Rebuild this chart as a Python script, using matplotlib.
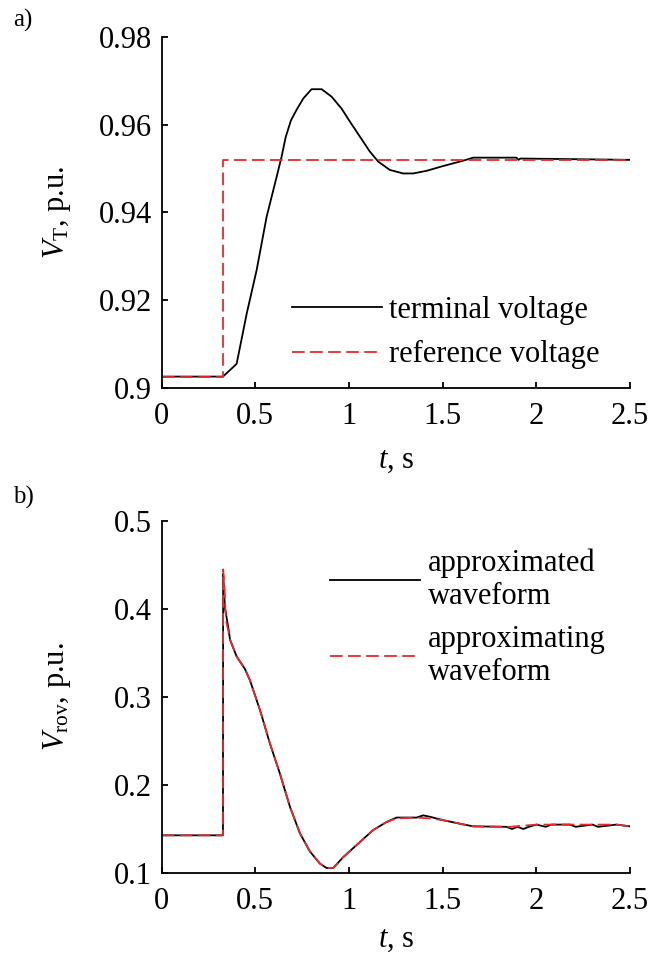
import matplotlib
matplotlib.use("Agg")
import matplotlib.pyplot as plt

plt.rcParams['font.family'] = 'Liberation Serif'
plt.rcParams['mathtext.fontset'] = 'custom'
plt.rcParams['mathtext.rm'] = 'Liberation Serif'
plt.rcParams['mathtext.it'] = 'Liberation Serif:italic'
plt.rcParams['font.size'] = 22

RED = '#e8292e'

# panel a) terminal voltage vs reference
term_t = [0, 0.327, 0.400, 0.454, 0.507, 0.560, 0.614, 0.640, 0.662, 0.690,
          0.720, 0.756, 0.800, 0.854, 0.907, 0.960, 1.005, 1.058, 1.111,
          1.156, 1.218, 1.289, 1.343, 1.414, 1.503, 1.609, 1.663, 1.894,
          1.905, 1.915, 2.5]
term_v = [0.9026, 0.9026, 0.9055, 0.917, 0.9269, 0.939, 0.9482, 0.9527,
          0.9572, 0.9610, 0.9634, 0.966, 0.9681, 0.9681, 0.9664, 0.9637,
          0.9607, 0.9573, 0.9539, 0.9516, 0.9497, 0.9489, 0.9489, 0.9495,
          0.9506, 0.9518, 0.9525, 0.9525, 0.9520, 0.9523, 0.952]
ref_t = [0, 0.327, 0.327, 2.5]
ref_v = [0.9026, 0.9026, 0.952, 0.952]

# panel b) approximated / approximating waveform
appd_t = [0, 0.327, 0.328, 0.333, 0.338, 0.343, 0.356, 0.365, 0.400, 0.444,
          0.471, 0.525, 0.578, 0.631, 0.685, 0.738, 0.791, 0.845, 0.880,
          0.916, 0.969, 1.040, 1.129, 1.200, 1.254, 1.361, 1.396, 1.430,
          1.503, 1.592, 1.663, 1.840, 1.870, 1.900, 1.930, 1.960, 2.001,
          2.050, 2.080, 2.180, 2.210, 2.300, 2.330, 2.428, 2.5]
appd_v = [0.1428, 0.1428, 0.440, 0.420, 0.400, 0.395, 0.378, 0.365, 0.346,
          0.332, 0.319, 0.285, 0.247, 0.213, 0.175, 0.1451, 0.1245, 0.1106,
          0.1057, 0.1057, 0.118, 0.1317, 0.1488, 0.1579, 0.163, 0.163,
          0.1655, 0.164, 0.160, 0.156, 0.153, 0.1525, 0.150, 0.1525, 0.150,
          0.1525, 0.155, 0.1525, 0.155, 0.155, 0.1525, 0.155, 0.1525, 0.155,
          0.153]
appg_t = [0, 0.327, 0.328, 0.335, 0.340, 0.345, 0.356, 0.365, 0.400, 0.444,
          0.471, 0.525, 0.578, 0.631, 0.685, 0.738, 0.791, 0.845, 0.880,
          0.916, 0.969, 1.040, 1.129, 1.200, 1.254, 1.361, 1.430, 1.503,
          1.592, 1.663, 1.859, 2.001, 2.428, 2.5]
appg_v = [0.1428, 0.1428, 0.445, 0.425, 0.400, 0.385, 0.375, 0.365, 0.346,
          0.332, 0.319, 0.285, 0.247, 0.213, 0.175, 0.1451, 0.1245, 0.1106,
          0.1057, 0.1057, 0.118, 0.1317, 0.1488, 0.1579, 0.162, 0.163,
          0.162, 0.160, 0.156, 0.153, 0.1525, 0.155, 0.155, 0.153]

W, H = 665, 956
fig = plt.figure(figsize=(W / 100, H / 100), dpi=100)


def style_axes(ax, xlab_y):
    for s in ['top', 'right']:
        ax.spines[s].set_visible(False)
    for s in ['left', 'bottom']:
        ax.spines[s].set_linewidth(1.3)
    ax.tick_params(direction='in', length=4.5, width=1.3)
    ax.tick_params(axis='y', pad=7)
    ax.tick_params(axis='x', pad=10)
    ax.set_xlim(0, 2.5)
    ax.set_xticks([0, 0.5, 1, 1.5, 2, 2.5])
    ax.set_xticklabels(['0', '0.5', '1', '1.5', '2', '2.5'])
    ax.set_xlabel(r'$t$, s')
    ax.xaxis.set_label_coords(0.5, xlab_y)
    ax.yaxis.set_label_coords(-0.19, 0.5)


ax1 = fig.add_axes([161.7 / W, 1 - 388 / H, 468.3 / W, 351 / H])
ax1.plot(term_t, term_v, color='black', lw=1.3, label='terminal voltage')
ax1.plot(ref_t, ref_v, color=RED, lw=1.3, dashes=(7, 3), label='reference voltage')
ax1.set_ylim(0.9, 0.98)
ax1.set_yticks([0.9, 0.92, 0.94, 0.96, 0.98])
ax1.set_yticklabels(['0.9', '0.92', '0.94', '0.96', '0.98'])
ax1.set_ylabel(r'$V_\mathrm{T}$, p.u.')
style_axes(ax1, -0.165)
ax1.legend(loc='upper left', bbox_to_anchor=(0.2776, 0.262), frameon=False,
           borderpad=0, borderaxespad=0, handlelength=2.94, handletextpad=0.25,
           labelspacing=0.5)

ax2 = fig.add_axes([161.7 / W, 1 - 873 / H, 468.3 / W, 352 / H])
ax2.plot(appd_t, appd_v, color='black', lw=1.3, label='approximated\nwaveform')
ax2.plot(appg_t, appg_v, color=RED, lw=1.3, dashes=(7, 3), label='approximating\nwaveform')
ax2.set_ylim(0.1, 0.5)
ax2.set_yticks([0.1, 0.2, 0.3, 0.4, 0.5])
ax2.set_yticklabels(['0.1', '0.2', '0.3', '0.4', '0.5'])
ax2.set_ylabel(r'$V_\mathrm{rov}$, p.u.')
style_axes(ax2, -0.148)
ax2.legend(loc='upper left', bbox_to_anchor=(0.3594, 0.923), frameon=False,
           borderpad=0, borderaxespad=0, handlelength=2.94, handletextpad=0.25,
           labelspacing=0.45)

fig.text(23 / W, 1 - 20 / H, 'a)', fontsize=18, ha='center', va='center')
fig.text(23 / W, 1 - 497 / H, 'b)', fontsize=18, ha='center', va='center')

fig.savefig('out.png', dpi=100)
